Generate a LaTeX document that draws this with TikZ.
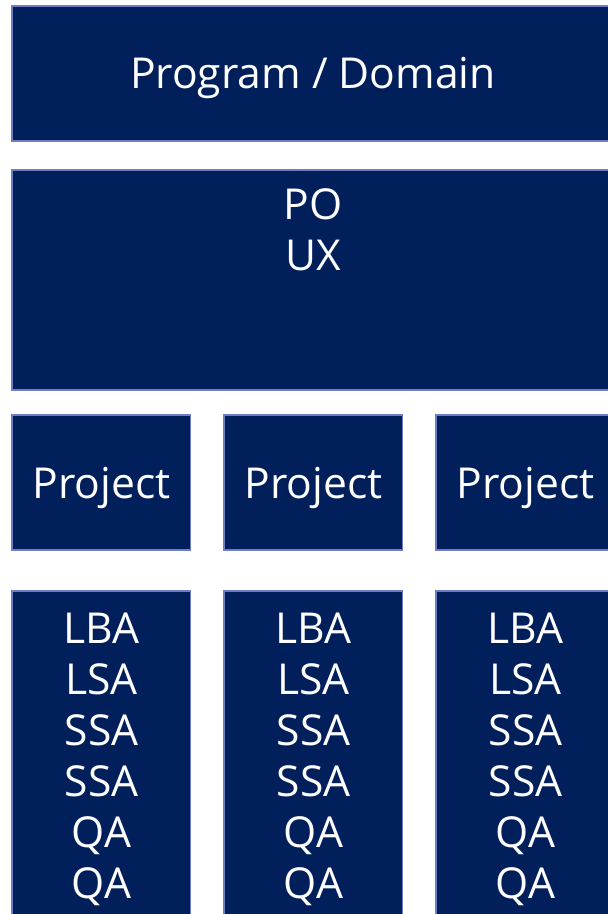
\documentclass[tikz,border=0pt]{standalone}
\usepackage{fontspec}
\setmainfont{Open Sans}
\definecolor{navy}{RGB}{0,31,91}
\definecolor{edge}{RGB}{112,125,196}
\begin{document}
\begin{tikzpicture}[x=1pt,y=-1pt,
  box/.style={fill=navy,draw=edge,line width=1.5pt},
  lbl/.style={anchor=base,text=white,inner sep=0pt,font=\fontsize{42.6}{51}\selectfont}]
\useasboundingbox (0,0) rectangle (608,914);
\clip (0,0) rectangle (608,914);
\draw[box] (12,6) rectangle (614,141);
\node[lbl] (prog) at (313,88) {Program / Domain};
\draw[box] (12,170) rectangle (614,390);
\node[lbl] (po) at (313,219) {PO};
\node[lbl] (ux) at (313,270) {UX};
\foreach \i/\x in {1/12,2/224,3/436}{
  \draw[box] (\x,415) rectangle ({\x+178.5},550);
  \node[lbl] (proj\i) at ({\x+89.5},498) {Project};
  \draw[box] (\x,591) rectangle ({\x+178.5},940);
  \foreach \t [count=\k from 0] in {LBA,LSA,SSA,SSA,QA,QA}{
    \node[lbl] (r\i\k) at ({\x+89.5},{643+51*\k}) {\t};
  }
}
\end{tikzpicture}
\end{document}
